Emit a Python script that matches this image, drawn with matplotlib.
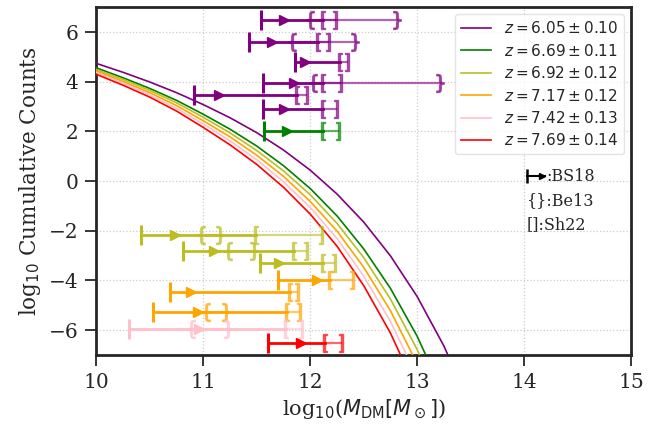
import matplotlib
matplotlib.use("Agg")
import matplotlib.pyplot as plt

plt.rcParams['font.family'] = ['DejaVu Serif']
plt.rcParams['mathtext.fontset'] = 'dejavusans'

# ---------------- data ----------------
curve_labels = [r"$z = 6.05 \pm 0.10$", r"$z = 6.69 \pm 0.11$", r"$z = 6.92 \pm 0.12$",
                r"$z = 7.17 \pm 0.12$", r"$z = 7.42 \pm 0.13$", r"$z = 7.69 \pm 0.14$"]
curve_colors = ["purple", "green", "#bcbd22", "orange", "pink", "red"]

mass_grid = [10.0, 10.25, 10.5, 10.75, 11.0, 11.25, 11.5, 11.75, 12.0, 12.25, 12.5, 12.75, 13.0, 13.25, 13.5]
purple_y = [4.74, 4.38, 3.99, 3.56, 3.08, 2.55, 1.95, 1.25, 0.44, -0.52, -1.65, -3.01, -4.65, -6.64, -9.08]
green_y = [4.56, 4.16, 3.73, 3.25, 2.69, 2.09, 1.41, 0.62, -0.30, -1.40, -2.73, -4.32, -6.25, -8.60]
olive_y = [4.49, 4.09, 3.65, 3.15, 2.57, 1.94, 1.23, 0.41, -0.55, -1.70, -3.08, -4.75, -6.78, -9.26]
orange_y = [4.43, 4.01, 3.56, 3.04, 2.43, 1.78, 1.04, 0.19, -0.82, -2.01, -3.47, -5.22, -7.36]
pink_y = [4.37, 3.94, 3.47, 2.93, 2.30, 1.62, 0.86, -0.03, -1.06, -2.31, -3.83, -5.65, -7.89]
red_y = [4.30, 3.86, 3.38, 2.82, 2.16, 1.46, 0.67, -0.25, -1.33, -2.62, -4.21, -6.12, -8.46]

curves_y = [purple_y, green_y, olive_y, orange_y, pink_y, red_y]

# observation rows: colour index, y, BS18 lower limit, BS18 arrow, Be13 range, Sh22 range
obs_color = [0, 0, 0, 0, 0, 0, 1, 2, 2, 2, 3, 3, 3, 4, 5]
obs_y = [6.48, 5.61, 4.79, 3.96, 3.47, 2.92, 2.02, -2.18, -2.81, -3.28, -3.98, -4.48, -5.25, -5.96, -6.50]
bs18_lo = [11.54, 11.43, 11.86, 11.56, 10.91, 11.56, 11.57, 10.42, 10.81, 11.53, 11.70, 10.69, 10.53, 10.30, 11.60]
bs18_arrow = [11.75, 11.64, 11.95, 11.85, 11.15, 11.75, 11.78, 10.73, 11.10, 11.71, 12.06, 10.88, 10.95, 10.96, 11.91]
be13_lo = [12.00, 11.83, None, 12.03, None, None, None, 10.98, 11.23, None, None, None, 11.02, 10.88, None]
be13_hi = [12.81, 12.42, None, 13.21, None, None, None, 11.16, 11.47, None, None, None, 11.21, 11.23, None]
sh22_lo = [12.12, 12.07, 12.28, 12.12, 11.88, 12.12, 12.12, 11.49, 11.85, 12.12, 12.18, 11.81, 11.78, 11.77, 12.14]
sh22_hi = [12.23, 12.17, 12.34, 12.28, 11.96, 12.24, 12.26, 12.10, 11.96, 12.22, 12.39, 11.88, 11.89, 11.91, 12.29]

# ---------------- figure ----------------
fig = plt.figure(figsize=(6.7, 4.3), dpi=100)
ax = fig.add_axes([0.1440, 0.1745, 0.7978, 0.8085])

for ys, c, lab in zip(curves_y, curve_colors, curve_labels):
    ax.plot(mass_grid[:len(ys)], ys, color=c, lw=1.2, label=lab, zorder=3)

ms_br = 13
for i in range(len(obs_y)):
    c = curve_colors[obs_color[i]]
    y = obs_y[i]
    # Be13 and Sh22 (lighter)
    if be13_lo[i] is not None:
        ax.plot([be13_lo[i], be13_hi[i]], [y, y], color=c, alpha=0.6, lw=1.6, zorder=4)
        ax.plot([be13_lo[i]], [y], marker=r'$\{$', ms=ms_br, color=c, alpha=0.6, lw=0, zorder=5)
        ax.plot([be13_hi[i]], [y], marker=r'$\}$', ms=ms_br, color=c, alpha=0.6, lw=0, zorder=5)
    ax.plot([sh22_lo[i], sh22_hi[i]], [y, y], color=c, alpha=0.6, lw=1.6, zorder=4)
    ax.plot([sh22_lo[i]], [y], marker=r'$[$', ms=ms_br, color=c, alpha=0.6, lw=0, zorder=5)
    ax.plot([sh22_hi[i]], [y], marker=r'$]$', ms=ms_br, color=c, alpha=0.6, lw=0, zorder=5)
    # BS18 lower limit
    ax.plot([bs18_lo[i], sh22_lo[i]], [y, y], color=c, lw=2, zorder=6)
    ax.plot([bs18_lo[i]], [y], marker='|', ms=15, mew=2.2, color=c, zorder=6)
    ax.plot([bs18_arrow[i]], [y], marker='>', ms=7, color=c, zorder=6)

# key annotations
ax.plot([14.03, 14.20], [0.2, 0.2], color='black', lw=1.5, zorder=6)
ax.plot([14.03], [0.2], marker='|', ms=10, mew=1.8, color='black', zorder=6)
ax.plot([14.17], [0.2], marker='>', ms=5, color='black', zorder=6)
ax.text(14.21, 0.2, ":BS18", fontsize=11.5, ha='left', va='center', color='#262626')
ax.text(14.02, -0.8, "{}:Be13", fontsize=11.5, ha='left', va='center', color='#262626')
ax.text(14.02, -1.77, "[]:Sh22", fontsize=11.5, ha='left', va='center', color='#262626')

ax.set_xlim(10, 15)
ax.set_ylim(-7, 7)
ax.set_xticks([10, 11, 12, 13, 14, 15])
ax.set_yticks([-6, -4, -2, 0, 2, 4, 6])
ax.grid(True, ls=':', color='#cccccc', lw=0.9)
ax.set_axisbelow(True)
for s in ax.spines.values():
    s.set_linewidth(2)
    s.set_color('#262626')
ax.tick_params(axis='both', length=8, width=1.3, color='#262626', labelsize=14.5,
               labelcolor='#262626', pad=5)

ax.set_xlabel(r"log$_{10}$($M_{\rm DM}[M_\odot]$)", fontsize=15, color='#262626')
ax.set_ylabel(r"log$_{10}$ Cumulative Counts", fontsize=15.5, color='#262626')

leg = ax.legend(loc='upper right', fontsize=11, frameon=True, fancybox=True,
                framealpha=0.8, edgecolor='#dddddd', handlelength=2.0,
                borderaxespad=0.45, labelspacing=0.42)
for t in leg.get_texts():
    t.set_color('#262626')

fig.savefig("out.png", dpi=100)
